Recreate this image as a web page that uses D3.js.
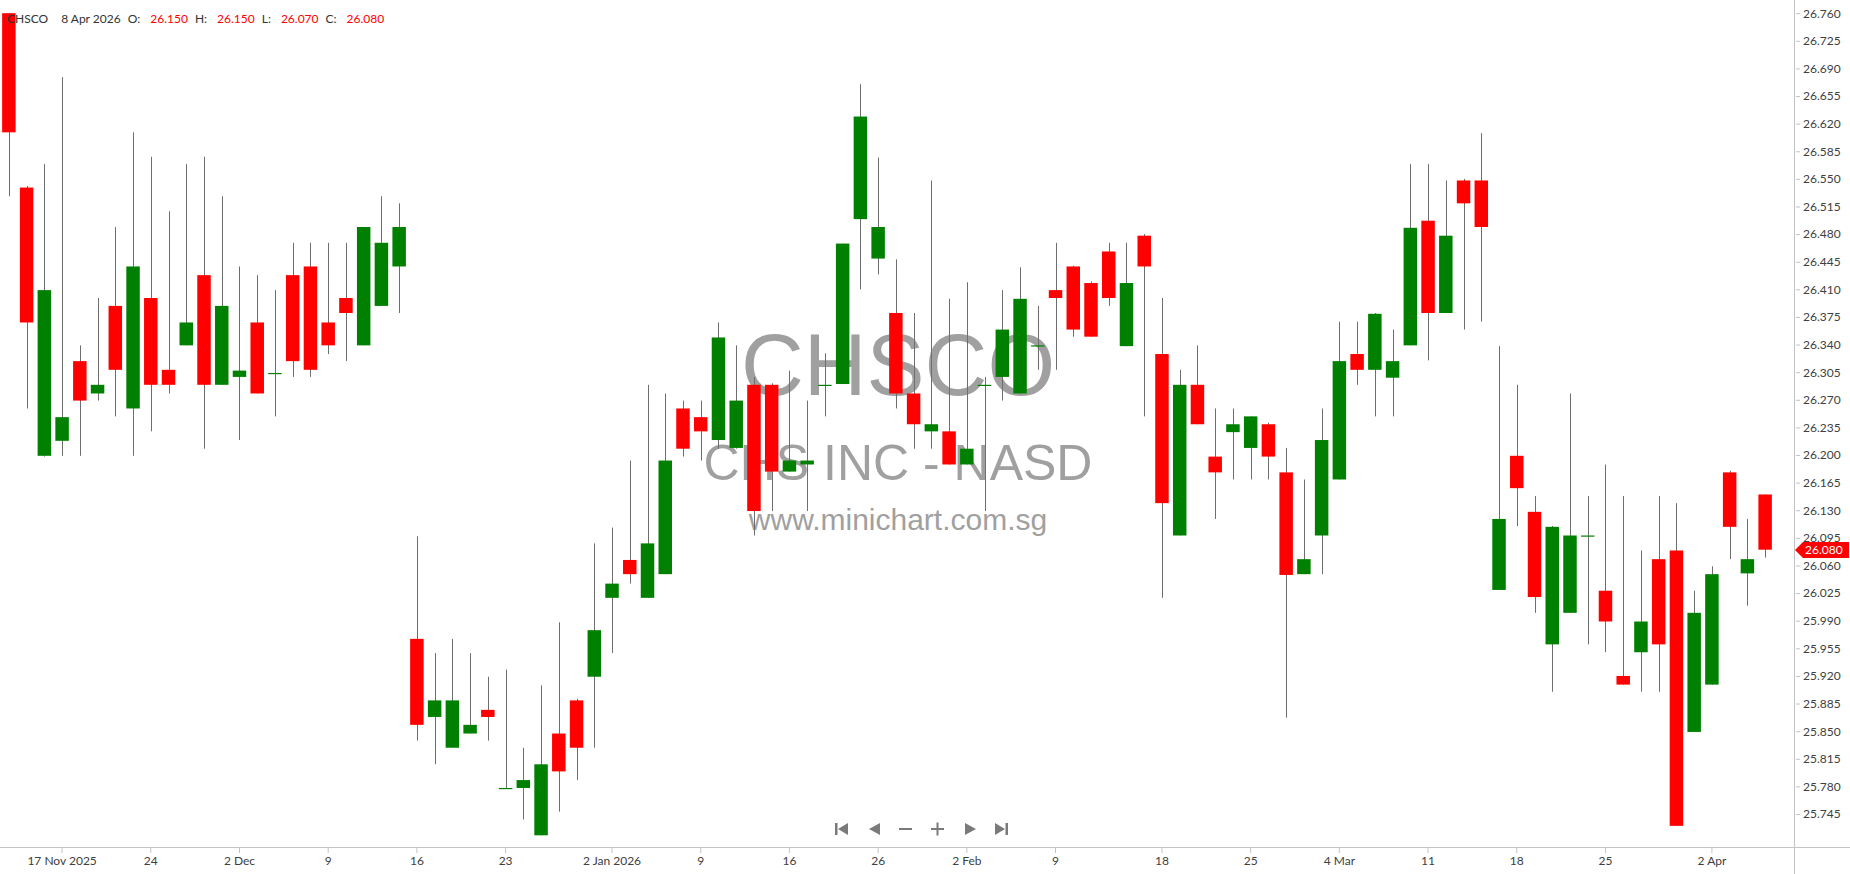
<!DOCTYPE html>
<meta charset='utf-8'>
<title>CHSCO daily</title>
<style>
body {
  margin: 0;
  background-color: #fff;
}
svg text {
  font-family: Lato, "Liberation Sans", sans-serif;
}
</style>
<svg width="1850" height="874"></svg>
<script src="https://d3js.org/d3.v7.min.js"></script>
<script>

// Daily OHLC, 12 Nov 2025 .. 8 Apr 2026
var open = [26.760, 26.539, 26.199, 26.218, 26.319, 26.278, 26.389, 26.259, 26.399, 26.308,
  26.339, 26.428, 26.289, 26.299, 26.368, 26.304, 26.428, 26.439, 26.368, 26.399,
  26.339, 26.389, 26.439, 25.967, 25.868, 25.829, 25.847, 25.877, 25.778, 25.778,
  25.718, 25.847, 25.889, 25.919, 26.019, 26.067, 26.019, 26.049, 26.259, 26.248,
  26.219, 26.209, 26.289, 26.289, 26.179, 26.188, 26.289, 26.290, 26.499, 26.449,
  26.380, 26.278, 26.230, 26.230, 26.188, 26.289, 26.299, 26.278, 26.339, 26.409,
  26.439, 26.418, 26.458, 26.338, 26.478, 26.328, 26.098, 26.289, 26.198, 26.229,
  26.209, 26.239, 26.178, 26.049, 26.098, 26.169, 26.328, 26.308, 26.298, 26.339,
  26.497, 26.380, 26.548, 26.548, 26.029, 26.199, 26.128, 25.960, 26.000, 26.098,
  26.028, 25.920, 25.950, 26.068, 26.079, 25.849, 25.909, 26.178, 26.050, 26.150];
var high = [26.760, 26.541, 26.569, 26.679, 26.339, 26.399, 26.489, 26.609, 26.578, 26.509,
  26.569, 26.578, 26.528, 26.439, 26.428, 26.409, 26.469, 26.469, 26.469, 26.469,
  26.489, 26.528, 26.519, 26.097, 25.949, 25.967, 25.949, 25.919, 25.928, 25.829,
  25.908, 25.988, 25.891, 26.088, 26.108, 26.193, 26.289, 26.278, 26.269, 26.269,
  26.368, 26.339, 26.299, 26.291, 26.307, 26.269, 26.329, 26.468, 26.670, 26.577,
  26.448, 26.380, 26.548, 26.398, 26.419, 26.299, 26.409, 26.438, 26.389, 26.469,
  26.440, 26.420, 26.469, 26.469, 26.480, 26.399, 26.308, 26.339, 26.259, 26.259,
  26.249, 26.241, 26.209, 26.169, 26.259, 26.369, 26.369, 26.380, 26.359, 26.569,
  26.569, 26.548, 26.550, 26.608, 26.338, 26.289, 26.148, 26.110, 26.278, 26.148,
  26.188, 26.148, 26.079, 26.148, 26.139, 26.028, 26.059, 26.180, 26.119, 26.150];
var low = [26.528, 26.259, 26.198, 26.199, 26.199, 26.269, 26.249, 26.199, 26.230, 26.278,
  26.339, 26.208, 26.289, 26.219, 26.278, 26.249, 26.299, 26.299, 26.328, 26.319,
  26.339, 26.389, 26.380, 25.838, 25.808, 25.829, 25.847, 25.838, 25.778, 25.738,
  25.718, 25.748, 25.788, 25.829, 25.949, 26.037, 26.019, 26.049, 26.198, 26.193,
  26.208, 26.208, 26.098, 26.129, 26.179, 26.129, 26.249, 26.290, 26.410, 26.429,
  26.259, 26.208, 26.208, 26.188, 26.188, 26.129, 26.269, 26.278, 26.308, 26.308,
  26.350, 26.350, 26.389, 26.338, 26.249, 26.019, 26.098, 26.239, 26.119, 26.169,
  26.169, 26.169, 25.867, 26.049, 26.049, 26.169, 26.289, 26.249, 26.249, 26.339,
  26.320, 26.380, 26.359, 26.369, 26.029, 26.110, 26.000, 25.900, 26.000, 25.960,
  25.950, 25.909, 25.900, 25.900, 25.730, 25.849, 25.909, 26.068, 26.009, 26.070];
var close = [26.609, 26.368, 26.409, 26.248, 26.269, 26.289, 26.308, 26.439, 26.289, 26.289,
  26.368, 26.289, 26.389, 26.307, 26.278, 26.304, 26.319, 26.308, 26.339, 26.380,
  26.489, 26.469, 26.489, 25.858, 25.889, 25.889, 25.858, 25.868, 25.778, 25.788,
  25.808, 25.799, 25.829, 25.978, 26.037, 26.049, 26.088, 26.193, 26.208, 26.230,
  26.349, 26.269, 26.129, 26.179, 26.193, 26.193, 26.289, 26.468, 26.629, 26.489,
  26.278, 26.239, 26.239, 26.188, 26.208, 26.289, 26.359, 26.398, 26.339, 26.399,
  26.359, 26.350, 26.399, 26.418, 26.439, 26.139, 26.289, 26.239, 26.178, 26.239,
  26.249, 26.198, 26.048, 26.068, 26.219, 26.319, 26.308, 26.379, 26.319, 26.488,
  26.380, 26.478, 26.519, 26.489, 26.119, 26.158, 26.020, 26.109, 26.098, 26.098,
  25.989, 25.909, 25.989, 25.960, 25.730, 26.000, 26.049, 26.109, 26.068, 26.080];

// NASDAQ holidays inside the range
var holidays = ["2025-11-27", "2025-12-25", "2026-01-01", "2026-01-19", "2026-02-16", "2026-04-03"];

var tickDates = ["2025-11-17", "2025-11-24", "2025-12-02", "2025-12-09", "2025-12-16", "2025-12-23",
  "2026-01-02", "2026-01-09", "2026-01-16", "2026-01-26", "2026-02-02", "2026-02-09", "2026-02-18",
  "2026-02-25", "2026-03-04", "2026-03-11", "2026-03-18", "2026-03-25", "2026-04-02"];
var tickLabels = ["17 Nov 2025", "24", "2 Dec", "9", "16", "23", "2 Jan 2026", "9", "16", "26",
  "2 Feb", "9", "18", "25", "4 Mar", "11", "18", "25", "2 Apr"];

var priceTicks = [26.760, 26.725, 26.690, 26.655, 26.620, 26.585, 26.550, 26.515, 26.480, 26.445,
  26.410, 26.375, 26.340, 26.305, 26.270, 26.235, 26.200, 26.165, 26.130, 26.095, 26.060, 26.025,
  25.990, 25.955, 25.920, 25.885, 25.850, 25.815, 25.780, 25.745];

var symbol = "CHSCO";
var lastLabel = "8 Apr 2026";
var watermark = ["CHSCO", "CHS INC - NASD", "www.minichart.com.sg"];

var RED = "#ff0000", GREEN = "#008000";

var svg = d3.select("svg");

// trading days
var fmt = d3.utcFormat("%Y-%m-%d");
var dates = d3.utcDays(new Date(Date.UTC(2025, 10, 12)), new Date(Date.UTC(2026, 3, 9)))
  .filter(function(d) {
    var w = d.getUTCDay();
    return w > 0 && w < 6 && holidays.indexOf(fmt(d)) < 0;
  })
  .map(fmt);

var candles = dates.map(function(d, i) {
  return { date: d, o: open[i], h: high[i], l: low[i], c: close[i] };
});

var x = d3.scaleBand()
    .domain(dates)
    .range([0, 1774])
    .paddingInner(0.24)
    .paddingOuter(0.12);

var y = d3.scaleLinear()
    .domain([25.745, 26.760])
    .range([814, 13.2]);

// watermark
var wm = svg.append("g")
    .attr("fill", "#a0a0a0")
    .attr("text-anchor", "middle");
wm.append("text").attr("x", 898).attr("y", 395).attr("font-size", 87)
    .style("font-family", "'Liberation Sans', Arial, sans-serif").text(watermark[0]);
wm.append("text").attr("x", 898).attr("y", 480).attr("font-size", 50)
    .style("font-family", "'Liberation Sans', Arial, sans-serif").text(watermark[1]);
wm.append("text").attr("x", 898).attr("y", 530).attr("font-size", 30)
    .style("font-family", "'Liberation Sans', Arial, sans-serif").text(watermark[2]);

// candles
var cg = svg.append("g");

cg.selectAll("line.wick")
    .data(candles)
  .enter().append("line")
    .attr("class", "wick")
    .attr("x1", function(d) { return Math.round(x(d.date) + x.bandwidth() / 2) + 0.5; })
    .attr("x2", function(d) { return Math.round(x(d.date) + x.bandwidth() / 2) + 0.5; })
    .attr("y1", function(d) { return y(d.h); })
    .attr("y2", function(d) { return y(d.l); })
    .attr("stroke", "#6e6e6e")
    .attr("stroke-width", 1);

cg.selectAll("rect.body")
    .data(candles)
  .enter().append("rect")
    .attr("class", "body")
    .attr("x", function(d) { return x(d.date); })
    .attr("width", x.bandwidth())
    .attr("y", function(d) { return y(Math.max(d.o, d.c)); })
    .attr("height", function(d) { return Math.max(1.2, Math.abs(y(d.o) - y(d.c))); })
    .attr("fill", function(d) { return d.c >= d.o ? GREEN : RED; });

// price axis
svg.append("line")
    .attr("x1", 1794.5).attr("x2", 1794.5)
    .attr("y1", 0).attr("y2", 874)
    .attr("stroke", "#c4c4c4");

var ya = svg.append("g")
    .attr("transform", "translate(1796,0)")
    .call(d3.axisRight(y)
      .tickValues(priceTicks)
      .tickSize(4)
      .tickPadding(3)
      .tickFormat(d3.format(".3f")));
ya.select(".domain").remove();
ya.selectAll(".tick line").attr("stroke", "#c4c4c4");
ya.selectAll(".tick text")
    .attr("fill", "#404040")
    .attr("font-size", 12)
    .style("font-family", "Lato, sans-serif");

// time axis
svg.append("line")
    .attr("x1", 0).attr("x2", 1850)
    .attr("y1", 847.5).attr("y2", 847.5)
    .attr("stroke", "#c4c4c4");

var xa = svg.append("g")
    .attr("transform", "translate(0,847)")
    .call(d3.axisBottom(x)
      .tickValues(tickDates)
      .tickSize(6)
      .tickPadding(3)
      .tickFormat(function(d) { return tickLabels[tickDates.indexOf(d)]; }));
xa.select(".domain").remove();
xa.selectAll(".tick line").attr("stroke", "#c4c4c4");
xa.selectAll(".tick text")
    .attr("fill", "#404040")
    .attr("font-size", 12)
    .style("font-family", "Lato, sans-serif");

// last price marker
var lastC = candles[candles.length - 1];
var my = Math.round(y(lastC.c));
svg.append("path")
    .attr("d", "M1795," + my + "L1803," + (my - 8) + "H1849V" + (my + 8) + "H1803Z")
    .attr("fill", RED);
svg.append("text")
    .attr("x", 1805).attr("y", my).attr("dy", "0.35em")
    .attr("fill", "#fff").attr("font-size", 12)
    .text(d3.format(".3f")(lastC.c));

// header line
var header = [
  [symbol, "#333", 13],
  [lastLabel, "#333", 7],
  ["O:", "#333", 10], [d3.format(".3f")(lastC.o), RED, 7],
  ["H:", "#333", 10], [d3.format(".3f")(lastC.h), RED, 7],
  ["L:", "#333", 10], [d3.format(".3f")(lastC.l), RED, 7],
  ["C:", "#333", 10], [d3.format(".3f")(lastC.c), RED, 7]
];
var hx = 7;
header.forEach(function(h) {
  var t = svg.append("text")
      .attr("x", hx).attr("y", 23)
      .attr("fill", h[1])
      .attr("font-size", 12)
      .text(h[0]);
  hx += t.node().getComputedTextLength() + h[2];
});

// navigation buttons
var nav = svg.append("g").attr("fill", "#7a7a7a").attr("stroke", "#7a7a7a");
nav.append("rect").attr("x", 835).attr("y", 823).attr("width", 2.5).attr("height", 12).attr("stroke", "none");
nav.append("path").attr("d", "M848,823V835L838,829Z").attr("stroke", "none");
nav.append("path").attr("d", "M880,823V835L869,829Z").attr("stroke", "none");
nav.append("line").attr("x1", 899).attr("x2", 912).attr("y1", 829).attr("y2", 829).attr("stroke-width", 2);
nav.append("line").attr("x1", 931).attr("x2", 944).attr("y1", 829).attr("y2", 829).attr("stroke-width", 2);
nav.append("line").attr("x1", 937.5).attr("x2", 937.5).attr("y1", 822.5).attr("y2", 835.5).attr("stroke-width", 2);
nav.append("path").attr("d", "M965,823V835L976,829Z").attr("stroke", "none");
nav.append("path").attr("d", "M995,823V835L1005,829Z").attr("stroke", "none");
nav.append("rect").attr("x", 1005.5).attr("y", 823).attr("width", 2.5).attr("height", 12).attr("stroke", "none");

</script>
